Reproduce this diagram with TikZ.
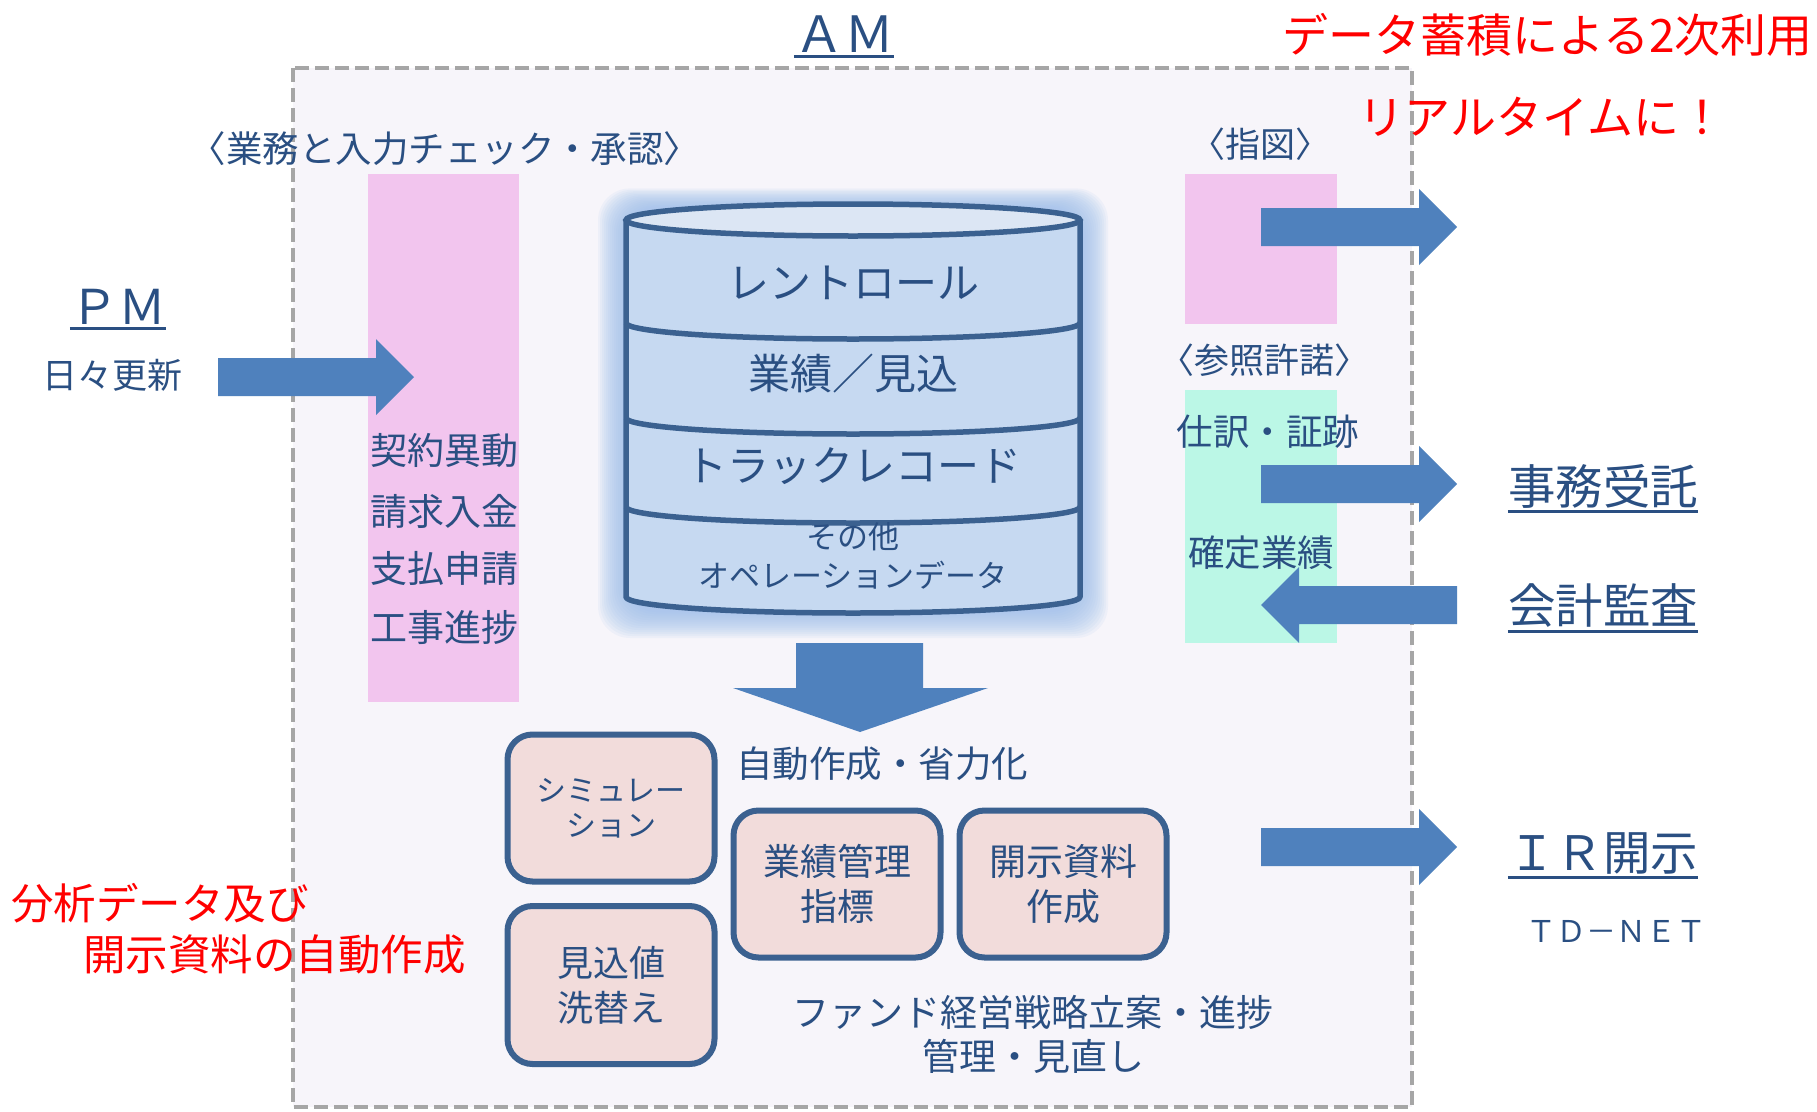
\documentclass[tikz,border=0pt]{standalone}
\usepackage{fontspec}
\setmainfont{Noto Sans CJK JP}
\definecolor{tblue}{HTML}{2A4F82}
\definecolor{arrowc}{HTML}{4F81BD}
\definecolor{edgec}{HTML}{3B6190}
\definecolor{cylf}{HTML}{C6D9F1}
\definecolor{cyltop}{HTML}{DCE6F4}
\definecolor{glowc}{HTML}{9DBEEC}
\definecolor{pinkbar}{HTML}{F2C5EE}
\definecolor{greenbar}{HTML}{BBF7E6}
\definecolor{boxf}{HTML}{F2DCDB}
\definecolor{amfill}{HTML}{F7F5FA}
\definecolor{dashc}{HTML}{A6A6A6}
\definecolor{redt}{HTML}{FF0000}
\newcommand\fsz[2]{\fontsize{#1pt}{#2pt}\selectfont}
\tikzset{
  txt/.style={text=tblue, inner sep=0pt, font=\fsz{#1}{#1}},
  redtxt/.style={text=redt, inner sep=0pt, font=\fsz{#1}{#1}},
  rbox/.style={draw=edgec, line width=6pt, fill=boxf, rounded corners=25pt,
    text=tblue, align=center, inner sep=0pt, minimum width=207pt},
  blockarrow/.style={fill=arrowc, draw=none},
  uline/.style={draw=tblue, line width=3pt},
  cyledge/.style={draw=edgec, line width=5.5pt},
}
\begin{document}
\begin{tikzpicture}[x=1pt,y=-1pt]
\useasboundingbox (0,0) rectangle (1817,1111);
\fill[white] (0,0) rectangle (1817,1111);
% AM frame
\draw[dashc, line width=4pt, dash pattern=on 14pt off 6pt, fill=amfill] (293,68) rectangle (1412,1107);
% bars
\fill[pinkbar] (368,174) rectangle (519,702);
\fill[pinkbar] (1185,174) rectangle (1337,324);
\fill[greenbar] (1185,390) rectangle (1337,643);
% glow
\foreach \r in {28,26,...,2} {
  \fill[glowc, opacity=0.1, rounded corners=32pt] (626-\r,208-0.7*\r) rectangle (1080+\r,610+\r);
}
% cylinder
\fill[cylf] (626,220) -- (626,597) arc[start angle=180, end angle=0, x radius=227, y radius=16] -- (1080,220) -- cycle;
\draw[cyledge, fill=cyltop] (853,220) ellipse [x radius=227, y radius=16];
\draw[cyledge] (626,323) arc[start angle=180, end angle=0, x radius=227, y radius=16];
\draw[cyledge] (626,418) arc[start angle=180, end angle=0, x radius=227, y radius=16];
\draw[cyledge] (626,507) arc[start angle=180, end angle=0, x radius=227, y radius=16];
\draw[cyledge, line join=round] (626,220) -- (626,597) arc[start angle=180, end angle=0, x radius=227, y radius=16] -- (1080,220);
\node[txt=42] (rr) at (853,283) {レントロール};
\node[txt=42] (gy) at (853,374) {業績／見込};
\node[txt=42] (tr) at (853,466) {トラックレコード};
\node[txt=31] (so) at (853,537) {その他};
\node[txt=31] (op) at (853,575) {オペレーションデータ};
% arrows
\fill[blockarrow] (218,358) -- (376,358) -- (376,339) -- (414,377) -- (376,415) -- (376,396) -- (218,396) -- cycle;
\fill[blockarrow] (1261,208) -- (1419,208) -- (1419,189) -- (1457,227) -- (1419,265) -- (1419,246) -- (1261,246) -- cycle;
\fill[blockarrow] (1261,465) -- (1419,465) -- (1419,446) -- (1457,484) -- (1419,522) -- (1419,503) -- (1261,503) -- cycle;
\fill[blockarrow] (1457,586) -- (1299,586) -- (1299,567) -- (1261,605) -- (1299,643) -- (1299,624) -- (1457,624) -- cycle;
\fill[blockarrow] (1261,828) -- (1419,828) -- (1419,809) -- (1457,847) -- (1419,885) -- (1419,866) -- (1261,866) -- cycle;
\fill[blockarrow] (796,643) -- (923,643) -- (923,688) -- (988,688) -- (860,732) -- (733,688) -- (796,688) -- cycle;
% boxes
\node[rbox, minimum height=147pt, font=\fsz{30}{35}] (sim) at (611,808) {シミュレー\\ション};
\node[rbox, minimum height=158pt, font=\fsz{36}{45}] (mik) at (611,985) {見込値\\洗替え};
\node[rbox, minimum height=147pt, font=\fsz{37}{45}] (gyo) at (837,884) {業績管理\\指標};
\node[rbox, minimum height=147pt, font=\fsz{37}{45}] (kai) at (1063,884) {開示資料\\作成};
% texts
\node[txt=50] (am) at (844,34) {ＡＭ};
\draw[uline] ([yshift=-4pt]am.south west) -- ([yshift=-4pt]am.south east);
\node[txt=48] (pm) at (118,307) {ＰＭ};
\draw[uline] ([yshift=-4pt]pm.south west) -- ([yshift=-4pt]pm.south east);
\node[txt=35] (hibi) at (112,375) {日々更新};
\node[txt=36.5] (gyomu) at (445,149) {〈業務と入力チェック・承認〉};
\node[txt=37] (k1) at (444,451) {契約異動};
\node[txt=37] (k2) at (444,511) {請求入金};
\node[txt=37] (k3) at (444,568) {支払申請};
\node[txt=37] (k4) at (444,627) {工事進捗};
\node[txt=36.5, anchor=west] (jido) at (736,764) {自動作成・省力化};
\node[txt=37, align=center, font=\fsz{37}{44}] (fund) at (1033,1034) {ファンド経営戦略立案・進捗\\管理・見直し};
\node[txt=35] (sizu) at (1260,144) {〈指図〉};
\node[txt=35] (sansho) at (1264,360) {〈参照許諾〉};
\node[txt=36.5] (shiwake) at (1268,432) {仕訳・証跡};
\node[txt=36.5] (kakutei) at (1261,553) {確定業績};
\node[txt=47.5] (jimu) at (1603,486) {事務受託};
\draw[uline] ([yshift=-3pt]jimu.south west) -- ([yshift=-3pt]jimu.south east);
\node[txt=47.5] (kansa) at (1603,606) {会計監査};
\draw[uline] ([yshift=-3pt]kansa.south west) -- ([yshift=-3pt]kansa.south east);
\node[txt=47.5] (ir) at (1603,853) {ＩＲ開示};
\draw[uline] ([yshift=-3pt]ir.south west) -- ([yshift=-3pt]ir.south east);
\node[txt=30] (td) at (1616,931) {ＴＤ－ＮＥＴ};
% red texts
\node[redtxt=46, anchor=east] (red1) at (1813,35) {データ蓄積による2次利用};
\node[redtxt=46] (red2) at (1542,117) {リアルタイムに！};
\node[redtxt=42.5, anchor=west] (red3) at (11,903) {分析データ及び};
\node[redtxt=42.5, anchor=west] (red4) at (83,954) {開示資料の自動作成};
\end{tikzpicture}
\end{document}
